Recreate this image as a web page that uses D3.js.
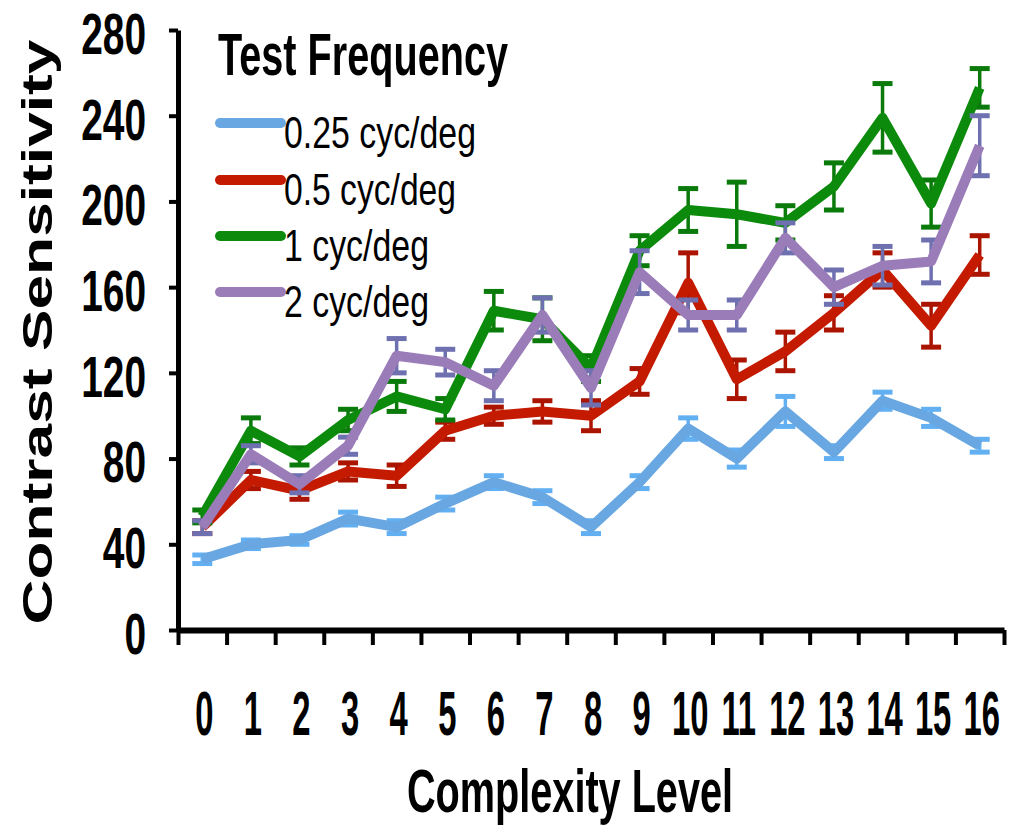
<!DOCTYPE html>
<html>
<head>
<meta charset="utf-8">
<script src="https://cdn.jsdelivr.net/npm/d3@7"></script>
<style>
  html, body { margin: 0; padding: 0; background: #fff; }
  svg { display: block; font-family: "Liberation Sans", Arial, sans-serif; }
</style>
</head>
<body>
<svg id="chart" width="1019" height="827"></svg>
<script>
// Complexity levels along the x axis
const levels = [0, 1, 2, 3, 4, 5, 6, 7, 8, 9, 10, 11, 12, 13, 14, 15, 16];
const yTicks = [0, 40, 80, 120, 160, 200, 240, 280];

// Mean contrast sensitivity and error per test frequency
const cs025 = [33, 40, 42, 52, 48, 59, 69, 62, 48, 69, 94, 80, 102, 83, 107, 99, 86];
const err025 = [2, 2, 2, 3, 3, 3, 3, 3, 3, 3, 5, 4, 7, 3, 4, 4, 3];
const cs05 = [48, 70, 65, 74, 72, 93, 100, 102, 100, 116, 162, 117, 130, 148, 168, 142, 175];
const err05 = [3, 4, 4, 4, 5, 4, 4, 5, 7, 6, 14, 9, 9, 8, 8, 10, 9];
const cs1 = [53, 93, 81, 98, 109, 103, 149, 145, 122, 177, 196, 194, 190, 207, 239, 199, 253];
const err1 = [3, 6, 4, 5, 7, 5, 9, 10, 6, 7, 10, 15, 8, 11, 16, 11, 9];
const cs2 = [48, 82, 68, 86, 128, 125, 114, 147, 113, 167, 147, 147, 183, 160, 170, 172, 226];
const err2 = [3, 4, 4, 4, 8, 6, 7, 8, 8, 10, 7, 7, 7, 8, 9, 10, 14];

const seriesNames = ["0.25 cyc/deg", "0.5 cyc/deg", "1 cyc/deg", "2 cyc/deg"];
const seriesValues = [cs025, cs05, cs1, cs2];
const seriesErrors = [err025, err05, err1, err2];
const lineColors = ["#68a7e2", "#c41a00", "#0b8a0b", "#9a7cb8"];
const barColors = ["#62b0f2", "#aa1400", "#0a7a0a", "#6e70b0"];

const svg = d3.select("#chart");

// Scales: levels sit in the middle of each slot between tick marks
const x = d3.scaleLinear().domain([0, levels.length]).range([178, 1004]);
const px = i => x(i + 0.5);
const y = d3.scaleLinear().domain([0, 280]).range([630, 30]);

// Y axis (tick labels drawn separately in a condensed face)
const yAxis = svg.append("g")
  .attr("transform", "translate(178,0)")
  .call(d3.axisLeft(y).tickValues(yTicks).tickSize(9).tickFormat("").tickSizeOuter(0));
yAxis.select(".domain").attr("stroke", "#000").attr("stroke-width", 5);
yAxis.selectAll(".tick line").attr("stroke", "#000").attr("stroke-width", 4);

svg.append("g").selectAll("text")
  .data(yTicks)
  .join("text")
  .attr("transform", d => `translate(146,${y(d) + 3}) scale(0.67,1)`)
  .attr("text-anchor", "end")
  .attr("dy", "0.36em")
  .attr("font-size", 58)
  .attr("font-weight", "bold")
  .attr("fill", "#000")
  .text(d => d);

// X axis: tick marks at slot boundaries, labels at slot centres
const xAxis = svg.append("g")
  .attr("transform", "translate(0,630)")
  .call(d3.axisBottom(x).tickValues(d3.range(levels.length + 1)).tickSize(15).tickFormat("").tickSizeOuter(0));
xAxis.select(".domain").attr("stroke", "#000").attr("stroke-width", 6);
xAxis.selectAll(".tick line").attr("stroke", "#000").attr("stroke-width", 4);

svg.append("g").selectAll("text")
  .data(levels)
  .join("text")
  .attr("transform", (d, i) => `translate(${px(i) + 2},735) scale(0.52,1)`)
  .attr("text-anchor", "middle")
  .attr("font-size", 63)
  .attr("font-weight", "bold")
  .attr("fill", "#000")
  .text(d => d);

// Axis titles
svg.append("text")
  .attr("transform", "translate(52,332) rotate(-90)")
  .attr("text-anchor", "middle")
  .attr("font-size", 42)
  .attr("font-weight", "bold")
  .attr("textLength", 585)
  .attr("lengthAdjust", "spacingAndGlyphs")
  .text("Contrast Sensitivity");

svg.append("text")
  .attr("x", 407)
  .attr("y", 812)
  .attr("font-size", 62)
  .attr("font-weight", "bold")
  .attr("textLength", 326)
  .attr("lengthAdjust", "spacingAndGlyphs")
  .text("Complexity Level");

// Series: error bars then line
seriesValues.forEach((vals, s) => {
  const g = svg.append("g");
  const errs = seriesErrors[s];
  const eb = g.append("g").attr("stroke", barColors[s]).attr("stroke-width", 3.5);
  vals.forEach((v, i) => {
    const cx = px(i), top = y(v + errs[i]), bot = y(v - errs[i]);
    eb.append("line").attr("x1", cx).attr("x2", cx).attr("y1", top).attr("y2", bot);
    eb.append("line").attr("x1", cx - 10).attr("x2", cx + 10).attr("y1", top).attr("y2", top).attr("stroke-width", 5);
    eb.append("line").attr("x1", cx - 10).attr("x2", cx + 10).attr("y1", bot).attr("y2", bot).attr("stroke-width", 5);
  });
  g.append("path")
    .datum(vals)
    .attr("fill", "none")
    .attr("stroke", lineColors[s])
    .attr("stroke-width", 10)
    .attr("stroke-linejoin", "round")
    .attr("d", d3.line().x((d, i) => px(i)).y(d => y(d)));
});

// Legend
svg.append("text")
  .attr("x", 218)
  .attr("y", 75)
  .attr("font-size", 60)
  .attr("font-weight", "bold")
  .attr("textLength", 290)
  .attr("lengthAdjust", "spacingAndGlyphs")
  .text("Test Frequency");

const legendRows = [123, 180, 236, 292];
const labelWidths = [192, 172, 145, 145];
seriesNames.forEach((name, s) => {
  const ly = legendRows[s];
  svg.append("line")
    .attr("x1", 220).attr("x2", 281)
    .attr("y1", ly).attr("y2", ly)
    .attr("stroke", lineColors[s])
    .attr("stroke-width", 10)
    .attr("stroke-linecap", "round");
  svg.append("text")
    .attr("x", 284)
    .attr("y", ly + 25)
    .attr("font-size", 44)
    .attr("textLength", labelWidths[s])
    .attr("lengthAdjust", "spacingAndGlyphs")
    .text(name);
});
</script>
</body>
</html>
